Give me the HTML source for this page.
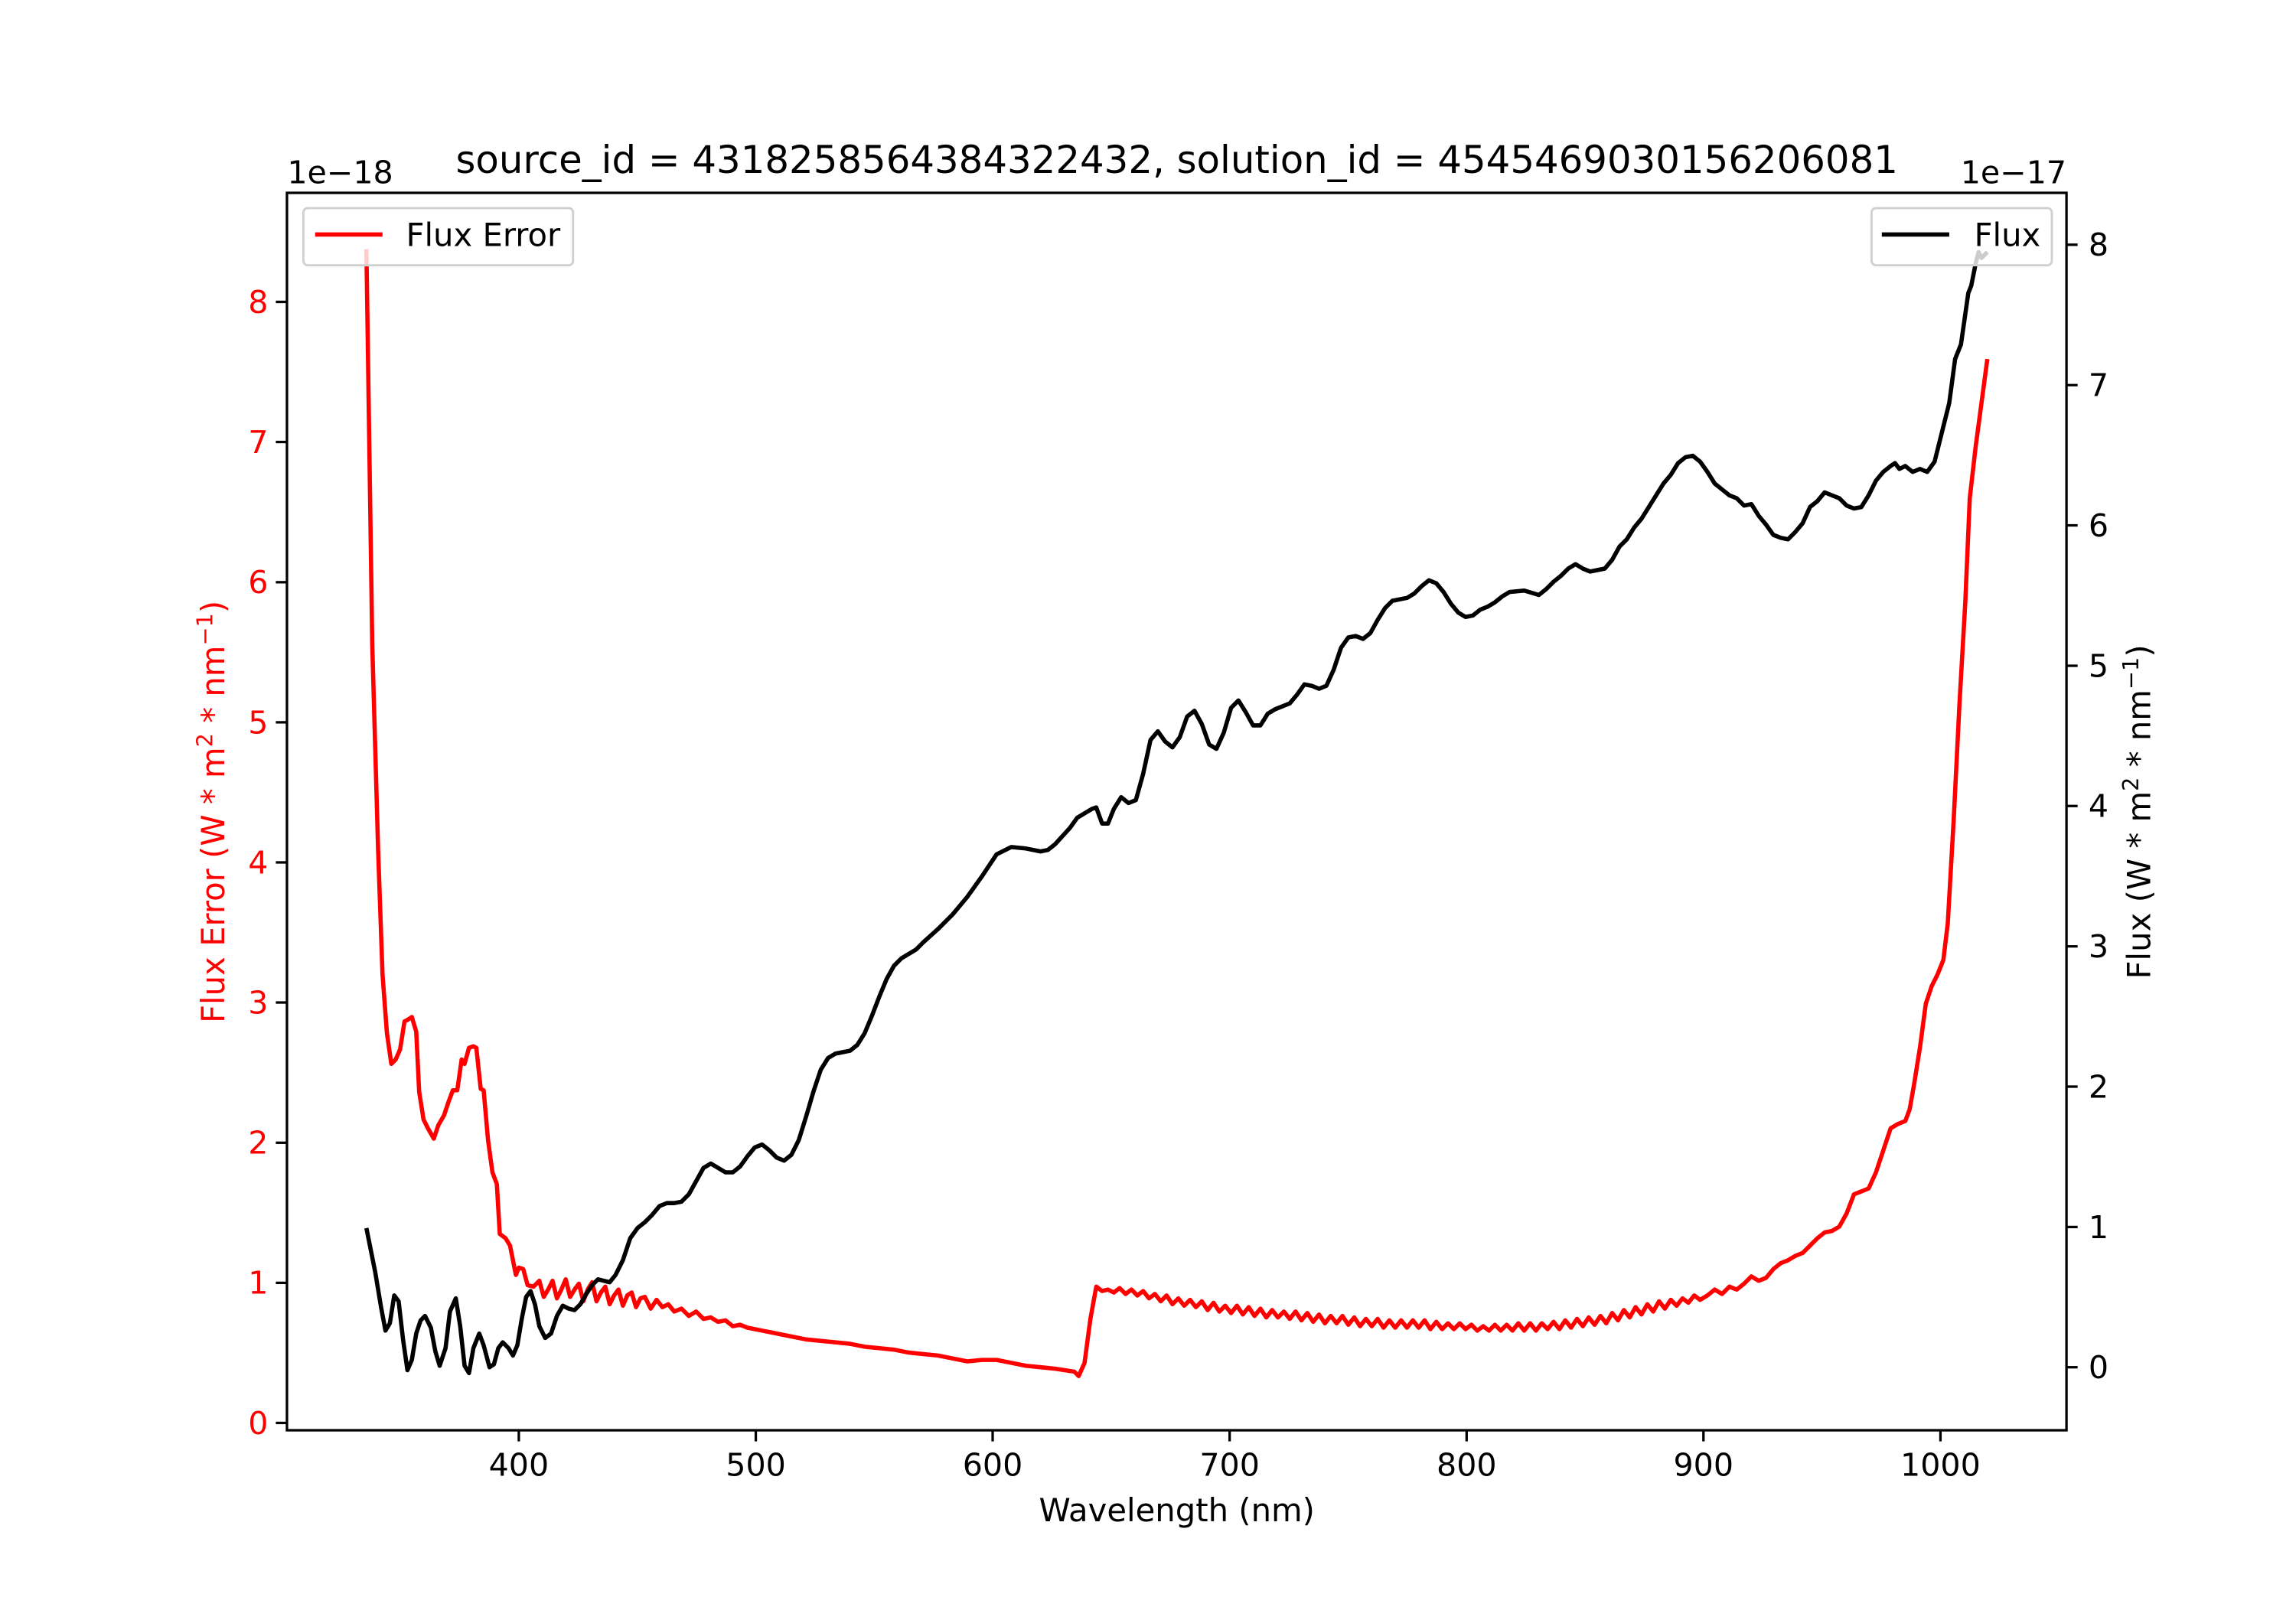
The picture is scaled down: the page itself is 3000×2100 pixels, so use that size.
<!DOCTYPE html>
<html><head><style>html,body{margin:0;padding:0;background:#fff}svg{display:block}</style></head>
<body>
<svg width="3000" height="2100" viewBox="0 0 1566.6 1096.6" xmlns="http://www.w3.org/2000/svg" font-family="DejaVu Sans, Liberation Sans, sans-serif">
<rect width="1566.6" height="1096.6" fill="#fff"/>
<defs><clipPath id="c"><rect x="195.8" y="131.6" width="1214.2" height="844.4"/></clipPath></defs>
<g clip-path="url(#c)" fill="none" stroke-width="2.9" stroke-linejoin="round">
<polyline stroke="#ff0000" points="250,170 254,440 258,580 261,665 264,705 267,726 270,723 273,716 276,697 278,696 281,694 284,704 286,745 289,764 292,770 296,777 299,768 303,761 306,752 309,744 312,744 315,723 317,726 320,715 323,714 325,715 328,743 330,744 333,778 336,800 339,808 341,842 345,845 348,850 352,870 354,865 357,866 360,877 364,878 368,874 371,885 374,880 377,874 380,886 383,880 386,873 389,885 392,880 395,876 398,888 401,880 404,875 407,888 410,882 413,878 416,890 419,884 422,880 425,891 428,884 431,882 434,892 437,886 440,885 444,893 448,887 452,892 456,890 460,895 465,893 470,898 475,895 480,900 485,899 490,902 495,901 500,905 505,904 510,906 520,908 530,910 540,912 550,914 560,915 570,916 580,917 590,919 600,920 610,921 620,923 630,924 640,925 650,927 660,929 670,928 680,928 690,930 700,932 710,933 720,934 733,936 736,939 740,930 744,900 748,878 752,881 756,880 760,882 764,879 768,883 772,880 776,884 780,881 784,886 788,883 792,888 796,884 800,890 804,886 808,891 812,887 816,892 820,888 824,894 828,889 832,895 836,891 840,896 844,891 848,897 852,892 856,898 860,893 864,899 868,894 872,899 876,895 880,900 884,895 888,901 892,896 896,902 900,897 904,903 908,898 912,903 916,898 920,904 924,899 928,905 932,900 936,905 940,900 944,906 948,901 952,906 956,901 960,906 964,901 968,906 972,901 976,907 980,902 984,907 988,903 992,907 996,903 1000,907 1004,904 1008,908 1012,905 1016,908 1020,904 1024,908 1028,904 1032,908 1036,903 1040,908 1044,903 1048,908 1052,903 1056,907 1060,902 1064,907 1068,901 1072,906 1076,900 1080,905 1084,899 1088,904 1092,898 1096,903 1100,896 1104,901 1108,894 1112,899 1116,892 1120,897 1124,890 1128,895 1132,888 1136,893 1140,887 1144,891 1148,886 1152,889 1156,884 1160,887 1165,884 1170,880 1175,883 1180,878 1185,880 1190,876 1195,871 1200,874 1205,872 1210,866 1215,862 1220,860 1225,857 1230,855 1235,850 1240,845 1245,841 1250,840 1255,837 1260,828 1265,815 1270,813 1275,811 1280,800 1285,785 1290,770 1295,767 1300,765 1303,757 1306,740 1310,715 1314,685 1318,673 1322,665 1326,655 1329,630 1333,560 1337,480 1341,410 1344,340 1348,305 1352,275 1356,245"/>
<polyline stroke="#000" points="250,838 256,868 260,892 263,908 266,903 269,884 272,888 275,914 278,935 281,928 284,910 287,901 290,898 294,906 297,922 300,932 304,920 307,895 311,886 314,905 317,932 320,937 323,920 327,910 330,918 334,933 337,931 340,920 343,916 347,920 350,925 353,918 356,900 359,885 362,881 365,890 368,905 372,913 376,910 380,898 384,891 388,893 392,894 396,890 400,883 404,877 408,873 412,874 416,875 420,870 425,860 430,845 435,838 440,834 445,829 450,823 455,821 460,821 465,820 470,815 475,806 480,797 485,794 490,797 495,800 500,800 505,796 510,789 515,783 520,781 525,785 530,790 535,792 540,788 545,778 550,762 555,745 560,730 565,722 570,719 575,718 580,717 585,713 590,705 595,693 600,680 605,668 610,659 615,654 620,651 625,648 630,643 640,634 650,624 660,612 670,598 680,583 690,578 700,579 710,581 715,580 720,576 730,565 735,558 745,552 748,551 752,562 756,562 760,552 765,544 770,548 775,546 780,528 785,505 790,499 795,506 800,510 805,503 810,489 815,485 820,494 825,508 830,511 835,500 840,483 845,478 850,486 855,495 860,495 865,487 870,484 880,480 885,474 890,467 895,468 900,470 905,468 910,457 915,442 920,435 925,434 930,436 935,432 940,423 945,415 950,410 960,408 965,405 970,400 975,396 980,398 985,404 990,412 995,418 1000,421 1005,420 1010,416 1015,414 1020,411 1025,407 1030,404 1040,403 1050,406 1055,402 1060,397 1065,393 1070,388 1075,385 1080,388 1085,390 1095,388 1100,382 1105,373 1110,368 1115,360 1120,354 1125,346 1130,338 1135,330 1140,324 1145,316 1150,312 1155,311 1160,315 1165,322 1170,330 1175,334 1180,338 1185,340 1190,345 1195,344 1200,352 1205,358 1210,365 1215,367 1220,368 1225,363 1230,357 1235,346 1240,342 1245,336 1250,338 1255,340 1260,345 1265,347 1270,346 1275,338 1280,328 1285,322 1290,318 1293,316 1296,320 1300,318 1305,322 1310,320 1315,322 1320,315 1325,295 1330,275 1334,245 1338,235 1343,200 1345,195 1348,180 1350,172 1352,176 1356,172"/>
</g>
<rect x="195.8" y="131.6" width="1214.2" height="844.4" fill="none" stroke="#000" stroke-width="1.7"/>
<g stroke="#000" stroke-width="1.7">
<line x1="354" y1="976" x2="354" y2="983.6"/><line x1="515.7" y1="976" x2="515.7" y2="983.6"/><line x1="677.3" y1="976" x2="677.3" y2="983.6"/><line x1="839" y1="976" x2="839" y2="983.6"/><line x1="1000.7" y1="976" x2="1000.7" y2="983.6"/><line x1="1162.3" y1="976" x2="1162.3" y2="983.6"/><line x1="1324" y1="976" x2="1324" y2="983.6"/>
<line x1="188.2" y1="971" x2="195.8" y2="971"/><line x1="188.2" y1="875.4" x2="195.8" y2="875.4"/><line x1="188.2" y1="779.8" x2="195.8" y2="779.8"/><line x1="188.2" y1="684.1" x2="195.8" y2="684.1"/><line x1="188.2" y1="588.5" x2="195.8" y2="588.5"/><line x1="188.2" y1="492.9" x2="195.8" y2="492.9"/><line x1="188.2" y1="397.3" x2="195.8" y2="397.3"/><line x1="188.2" y1="301.6" x2="195.8" y2="301.6"/><line x1="188.2" y1="206" x2="195.8" y2="206"/>
<line x1="1410" y1="933" x2="1417.6" y2="933"/><line x1="1410" y1="837.3" x2="1417.6" y2="837.3"/><line x1="1410" y1="741.5" x2="1417.6" y2="741.5"/><line x1="1410" y1="645.8" x2="1417.6" y2="645.8"/><line x1="1410" y1="550" x2="1417.6" y2="550"/><line x1="1410" y1="454.3" x2="1417.6" y2="454.3"/><line x1="1410" y1="358.5" x2="1417.6" y2="358.5"/><line x1="1410" y1="262.8" x2="1417.6" y2="262.8"/><line x1="1410" y1="167" x2="1417.6" y2="167"/>
</g>
<g font-size="21.5" text-anchor="middle" fill="#000">
<text x="354" y="1007">400</text><text x="515.7" y="1007">500</text><text x="677.3" y="1007">600</text><text x="839" y="1007">700</text><text x="1000.7" y="1007">800</text><text x="1162.3" y="1007">900</text><text x="1324" y="1007">1000</text>
</g>
<g font-size="21.5" text-anchor="end" fill="#ff0000">
<text x="183" y="978.5">0</text><text x="183" y="882.9">1</text><text x="183" y="787.3">2</text><text x="183" y="691.6">3</text><text x="183" y="596">4</text><text x="183" y="500.4">5</text><text x="183" y="404.8">6</text><text x="183" y="309.1">7</text><text x="183" y="213.5">8</text>
</g>
<g font-size="21.5" fill="#000">
<text x="1425" y="940.5">0</text><text x="1425" y="844.8">1</text><text x="1425" y="749">2</text><text x="1425" y="653.3">3</text><text x="1425" y="557.5">4</text><text x="1425" y="461.8">5</text><text x="1425" y="366">6</text><text x="1425" y="270.3">7</text><text x="1425" y="174.5">8</text>
</g>
<text x="196" y="125" font-size="21.5">1e−18</text>
<text x="1410" y="125" font-size="21.5" text-anchor="end">1e−17</text>
<text x="803" y="118" font-size="26" text-anchor="middle">source_id = 4318258564384322432, solution_id = 4545469030156206081</text>
<text x="803" y="1038" font-size="21.8" text-anchor="middle">Wavelength (nm)</text>
<text transform="translate(153,554) rotate(-90)" font-size="21.8" text-anchor="middle" fill="#ff0000">Flux Error (W * m<tspan font-size="15" dy="-8">2</tspan><tspan dy="8"> * nm</tspan><tspan font-size="15" dy="-8">−1</tspan><tspan dy="8">)</tspan></text>
<text transform="translate(1467,554) rotate(-90)" font-size="21.8" text-anchor="middle" fill="#000">Flux (W * m<tspan font-size="15" dy="-8">2</tspan><tspan dy="8"> * nm</tspan><tspan font-size="15" dy="-8">−1</tspan><tspan dy="8">)</tspan></text>
<rect x="207" y="142" width="184" height="39" rx="3" fill="#fff" fill-opacity="0.8" stroke="#d0d0d0" stroke-width="1.5"/>
<line x1="215" y1="160" x2="261" y2="160" stroke="#ff0000" stroke-width="2.9"/>
<text x="277" y="168" font-size="21.8">Flux Error</text>
<rect x="1277" y="142" width="123" height="39" rx="3" fill="#fff" fill-opacity="0.8" stroke="#d0d0d0" stroke-width="1.5"/>
<line x1="1284" y1="160" x2="1330" y2="160" stroke="#000" stroke-width="2.9"/>
<text x="1347" y="168" font-size="21.8">Flux</text>
</svg>
</body></html>
